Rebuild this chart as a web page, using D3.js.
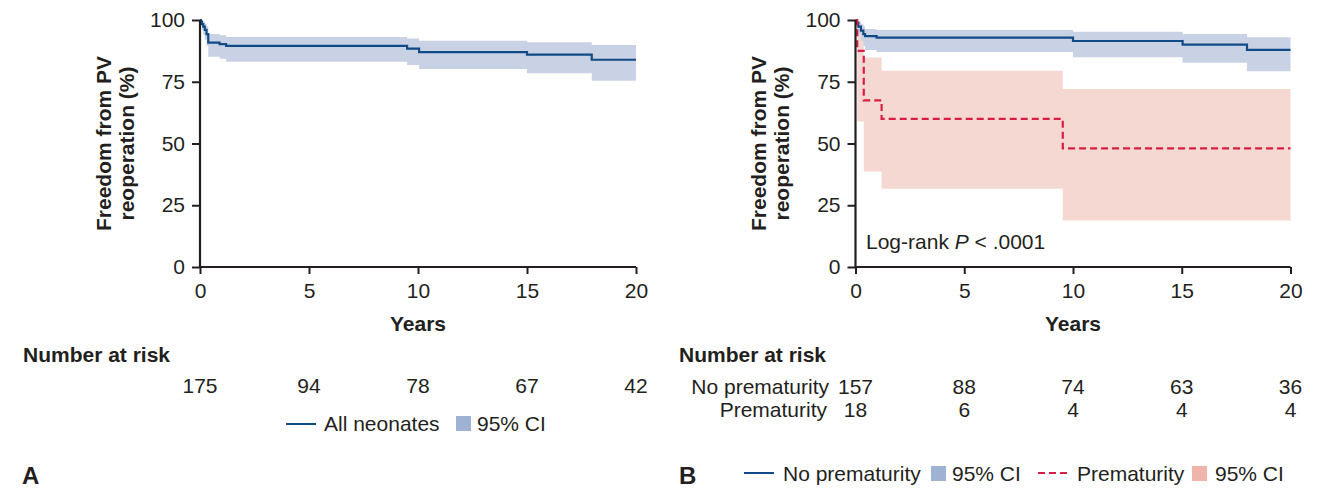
<!DOCTYPE html>
<html>
<head>
<meta charset="utf-8">
<script src="https://cdn.jsdelivr.net/npm/d3@7"></script>
<style>
  body { margin: 0; background: #fff; }
  svg text { font-family: "Liberation Sans", Arial, Helvetica, sans-serif; fill: #231f20; font-size: 21px; }
  .bold { font-weight: bold; }
</style>
</head>
<body>
<svg id="chart" width="1331" height="489"></svg>
<script>
// ticks
var xTicks = [0, 5, 10, 15, 20];
var yTicks = [0, 25, 50, 75, 100];

// Panel A : all neonates
var timesA = [0, 0.04, 0.09, 0.15, 0.22, 0.3, 0.38, 0.9, 1.2, 9.5, 10.05, 15.0, 17.97, 20];
var survA  = [100, 99.4, 98.3, 97.3, 96.0, 94.3, 90.8, 90.2, 89.5, 88.4, 87.0, 86.0, 83.9, 83.9];
var lowerA = [100, 98, 96, 94, 92, 89.5, 85.1, 84.3, 83.1, 81.8, 80.2, 78.4, 75.4, 75.4];
var upperA = [100, 100, 99.8, 99.4, 98.5, 97.5, 94.3, 93.8, 93.1, 92.5, 91.6, 91.0, 89.9, 89.9];
var riskA  = [175, 94, 78, 67, 42];

// Panel B : no prematurity
var timesBn = [0, 0.05, 0.13, 0.25, 0.36, 0.44, 0.97, 10.0, 15.04, 18.0, 20];
var survBn  = [100, 98.8, 97.3, 95.7, 94.3, 93.5, 92.9, 91.5, 90.0, 87.9, 87.9];
var lowerBn = [100, 97, 94, 91.5, 89.5, 87.9, 87.0, 84.9, 82.7, 79.3, 79.3];
var upperBn = [100, 99.9, 99.4, 98.5, 97.5, 96.4, 96.0, 95.2, 94.3, 93.0, 93.0];
var riskBn  = [157, 88, 74, 63, 36];

// Panel B : prematurity
var timesBp = [0, 0.08, 0.38, 1.2, 9.53, 20];
var survBp  = [100, 87.5, 67.5, 60, 48, 48];
var lowerBp = [100, 58.9, 38.7, 31.7, 18.8, 18.8];
var upperBp = [100, 98, 84.8, 79.5, 72.1, 72.1];
var riskBp  = [18, 6, 4, 4, 4];

var blue = '#114a86', blueCI = '#c9d2e5', blueKey = '#9fb2d3';
var red = '#d81e46', redCI = '#f6d8d2', redKey = '#efb5ad';

var svg = d3.select('svg#chart');

function rows(t, s, lo, hi) {
    return t.map(function (d, i) { return { t: d, s: s[i], lo: lo[i], hi: hi[i] }; });
}

function panel(x0, x1) {
    var x = d3.scaleLinear().domain([0, 20]).range([x0, x1]);
    var y = d3.scaleLinear().domain([0, 100]).range([267, 20]);
    return { x: x, y: y };
}

function drawCI(p, data, col) {
    var area = d3.area().curve(d3.curveStepAfter)
        .x(d => p.x(d.t)).y0(d => p.y(d.lo)).y1(d => p.y(d.hi));
    svg.append('path').datum(data).attr('d', area).style('fill', col).style('stroke', 'none');
}

function drawCurve(p, data, col, dash) {
    var line = d3.line().curve(d3.curveStepAfter).x(d => p.x(d.t)).y(d => p.y(d.s));
    svg.append('path').datum(data).attr('d', line)
        .style('fill', 'none').style('stroke', col).style('stroke-width', 2.2)
        .style('stroke-dasharray', dash ? '7,4' : null);
}

function drawAxes(p, labX) {
    var gx = svg.append('g').attr('transform', 'translate(0,' + p.y(0) + ')')
        .call(d3.axisBottom(p.x).tickValues(xTicks).tickSize(7).tickPadding(9));
    var gy = svg.append('g').attr('transform', 'translate(' + p.x(0) + ',0)')
        .call(d3.axisLeft(p.y).tickValues(yTicks).tickSize(8).tickPadding(7));
    [gx, gy].forEach(function (g) {
        g.select('.domain').style('stroke', '#231f20').style('stroke-width', 2.2);
        g.selectAll('.tick line').style('stroke', '#231f20').style('stroke-width', 2);
        g.selectAll('.tick text').style('font-size', '21px').style('fill', '#231f20')
            .style('font-family', '"Liberation Sans", Arial, sans-serif');
    });
    gx.select('.domain').attr('d', 'M' + p.x(0) + ',0H' + p.x(20));
    gy.select('.domain').attr('d', 'M0,' + p.y(0) + 'V' + p.y(100));
    svg.append('text').attr('class', 'bold').attr('x', (p.x(0) + p.x(20)) / 2).attr('y', 331)
        .attr('text-anchor', 'middle').text('Years');
    var yl = svg.append('text').attr('class', 'bold').attr('text-anchor', 'middle')
        .attr('transform', 'translate(' + labX + ',' + p.y(50) + ') rotate(-90)');
    yl.append('tspan').attr('x', 0).attr('dy', 0).text('Freedom from PV');
    yl.append('tspan').attr('x', 0).attr('dy', 23).text('reoperation (%)');
}

function riskRow(p, vals, yy) {
    svg.selectAll(null).data(vals).enter().append('text')
        .attr('x', (d, i) => p.x(xTicks[i])).attr('y', yy)
        .attr('text-anchor', 'middle').text(d => d);
}

/*----------  Panel A  ----------*/
var pA = panel(200, 636);
drawCI(pA, rows(timesA, survA, lowerA, upperA), blueCI);
drawCurve(pA, rows(timesA, survA, lowerA, upperA), blue, false);
drawAxes(pA, 111);
svg.append('text').attr('class', 'bold').attr('x', 23).attr('y', 362).text('Number at risk');
riskRow(pA, riskA, 393);

svg.append('line').attr('x1', 286).attr('x2', 316).attr('y1', 424).attr('y2', 424).style('stroke', blue).style('stroke-width', 2);
svg.append('text').attr('x', 324).attr('y', 431).text('All neonates');
svg.append('rect').attr('x', 456).attr('y', 416).attr('width', 15).attr('height', 15).style('fill', blueKey);
svg.append('text').attr('x', 477).attr('y', 431).text('95% CI');
svg.append('text').attr('class', 'bold').attr('x', 22).attr('y', 484).style('font-size', '24px').text('A');

/*----------  Panel B  ----------*/
var pB = panel(855.5, 1290.5);
drawCI(pB, rows(timesBp, survBp, lowerBp, upperBp), redCI);
drawCI(pB, rows(timesBn, survBn, lowerBn, upperBn), blueCI);
drawCurve(pB, rows(timesBn, survBn, lowerBn, upperBn), blue, false);
drawCurve(pB, rows(timesBp, survBp, lowerBp, upperBp), red, true);
drawAxes(pB, 766);

var lr = svg.append('text').attr('x', 866).attr('y', 249);
lr.append('tspan').text('Log-rank ');
lr.append('tspan').style('font-style', 'italic').text('P');
lr.append('tspan').text(' < .0001');

svg.append('text').attr('class', 'bold').attr('x', 679).attr('y', 362).text('Number at risk');
svg.append('text').attr('x', 829).attr('y', 394).attr('text-anchor', 'end').text('No prematurity');
svg.append('text').attr('x', 827).attr('y', 417).attr('text-anchor', 'end').text('Prematurity');
riskRow(pB, riskBn, 394);
riskRow(pB, riskBp, 417);

svg.append('line').attr('x1', 744).attr('x2', 774).attr('y1', 473).attr('y2', 473).style('stroke', blue).style('stroke-width', 2);
svg.append('text').attr('x', 783).attr('y', 481).text('No prematurity');
svg.append('rect').attr('x', 931).attr('y', 466).attr('width', 15).attr('height', 15).style('fill', blueKey);
svg.append('text').attr('x', 952).attr('y', 481).text('95% CI');
svg.append('line').attr('x1', 1038).attr('x2', 1068).attr('y1', 473).attr('y2', 473).style('stroke', red).style('stroke-width', 2).style('stroke-dasharray', '7,4');
svg.append('text').attr('x', 1077).attr('y', 481).text('Prematurity');
svg.append('rect').attr('x', 1192).attr('y', 466).attr('width', 15).attr('height', 15).style('fill', redKey);
svg.append('text').attr('x', 1215).attr('y', 481).text('95% CI');
svg.append('text').attr('class', 'bold').attr('x', 679).attr('y', 484).style('font-size', '24px').text('B');
</script>
</body>
</html>
